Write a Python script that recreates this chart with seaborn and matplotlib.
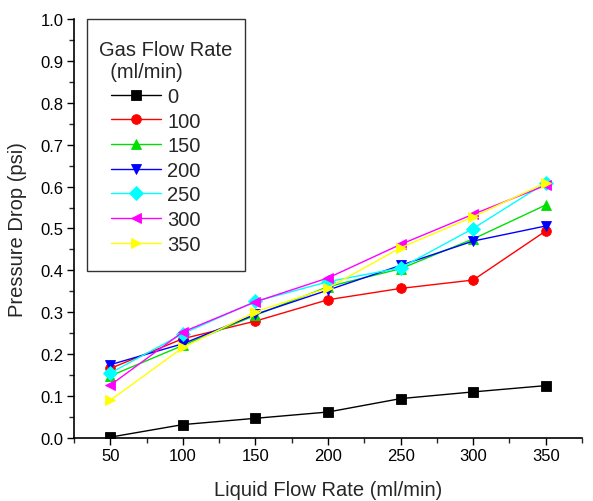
import numpy as np
import pandas as pd
import matplotlib
matplotlib.use('Agg')
import matplotlib.pyplot as plt
import seaborn as sns
from matplotlib.ticker import MultipleLocator, FormatStrFormatter
from matplotlib.offsetbox import DrawingArea

sns.set_style('ticks')
plt.rcParams['font.family'] = ['Liberation Sans', 'DejaVu Sans']

liquidFlow = [50, 100, 150, 200, 250, 300, 350]
gasFlows = ['0', '100', '150', '200', '250', '300', '350']
dp0 = [0.002, 0.032, 0.047, 0.062, 0.094, 0.110, 0.125]
dp100 = [0.166, 0.237, 0.279, 0.330, 0.357, 0.377, 0.494]
dp150 = [0.148, 0.221, 0.293, 0.361, 0.404, 0.475, 0.556]
dp200 = [0.175, 0.225, 0.295, 0.353, 0.412, 0.470, 0.506]
dp250 = [0.155, 0.249, 0.326, 0.373, 0.406, 0.500, 0.609]
dp300 = [0.126, 0.253, 0.325, 0.382, 0.462, 0.534, 0.603]
dp350 = [0.090, 0.216, 0.301, 0.358, 0.454, 0.528, 0.609]

seriesList = [dp0, dp100, dp150, dp200, dp250, dp300, dp350]
gasColours = ['#000000', '#ff0000', '#00e000', '#0000ff', '#00ffff', '#ff00ff', '#ffff00']
gasMarkers = ['s', 'o', '^', 'v', 'D', '<', '>']

rows = []
for gas, vals in zip(gasFlows, seriesList):
    for lf, v in zip(liquidFlow, vals):
        rows.append({'Liquid': lf, 'Pressure': v, 'Gas': gas})
df = pd.DataFrame(rows)

fig = plt.figure(figsize=(5.93, 5.02), dpi=100)
ax = fig.add_axes([74 / 593, 63 / 502, 508 / 593, 419 / 502])

sns.lineplot(data=df, x='Liquid', y='Pressure', hue='Gas', style='Gas',
             hue_order=gasFlows, style_order=gasFlows,
             palette=dict(zip(gasFlows, gasColours)),
             markers=dict(zip(gasFlows, gasMarkers)), dashes=False,
             markersize=7, markeredgewidth=0.6, linewidth=1, ax=ax)
for line in ax.get_lines():
    line.set_markeredgecolor(line.get_color())

ax.set_xlim(25, 375)
ax.set_ylim(0, 1.0)
ax.xaxis.set_major_locator(MultipleLocator(50))
ax.xaxis.set_minor_locator(MultipleLocator(25))
ax.yaxis.set_major_locator(MultipleLocator(0.1))
ax.yaxis.set_minor_locator(MultipleLocator(0.05))
ax.yaxis.set_major_formatter(FormatStrFormatter('%.1f'))
ax.tick_params(which='major', length=5, width=1, labelsize=12, pad=2.5, colors='black')
ax.tick_params(which='minor', length=3.5, width=1)
for side in ['top', 'right']:
    ax.spines[side].set_visible(False)
for side in ['left', 'bottom']:
    ax.spines[side].set_linewidth(1.2)
    ax.spines[side].set_color('black')

ax.set_xlabel('Liquid Flow Rate (ml/min)', fontsize=14.5, labelpad=12)
ax.set_ylabel('Pressure Drop (psi)', fontsize=14.5, labelpad=10)

handles, labels = ax.get_legend_handles_labels()
leg = ax.legend(handles, labels, title='Gas Flow Rate\n  (ml/min)', loc='upper left',
                bbox_to_anchor=(0.026, 1.0), borderaxespad=0, fontsize=14.5,
                title_fontsize=14.5, frameon=True, fancybox=False, edgecolor='black',
                handlelength=2.5, labelspacing=0.28, alignment='left',
                borderpad=0.6, handletextpad=0.3, columnspacing=0)
leg.get_frame().set_linewidth(1)
leg.get_title().set_linespacing(1.25)
# indent the entries a bit relative to the title, pad top and bottom
leg._legend_handle_box.get_children().insert(0, DrawingArea(8.5, 0))
leg._legend_box.get_children().insert(0, DrawingArea(0, 2))
leg._legend_box.get_children().append(DrawingArea(0, 0))

fig.savefig('out.png', dpi=100)
